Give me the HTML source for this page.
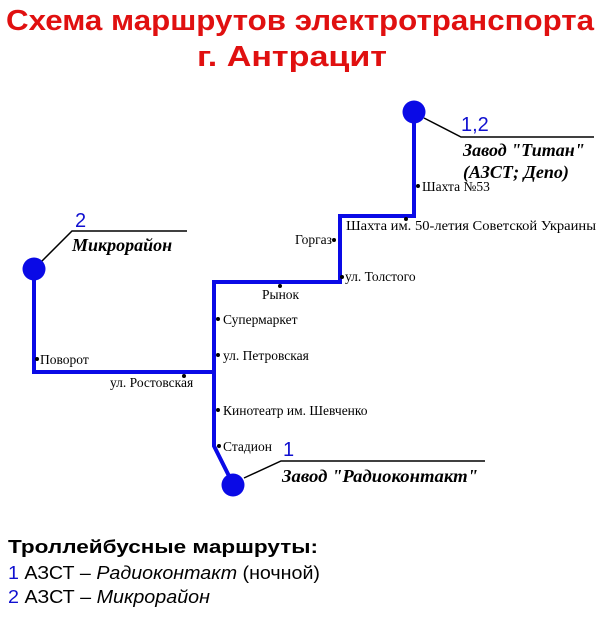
<!DOCTYPE html>
<html><head><meta charset="utf-8"><style>
html,body{margin:0;padding:0;background:#fff;width:600px;height:644px;overflow:hidden}
svg text{font-family:"Liberation Serif","DejaVu Serif",serif}
.s{font-size:13.5px;fill:#000}
.t{font-family:"Liberation Sans",sans-serif !important;font-weight:bold;fill:#e01010}
.n{font-family:"Liberation Sans","DejaVu Sans",sans-serif !important;fill:#1010d0;font-size:20px}
.lbl{font-style:italic;font-weight:bold;font-size:18px;fill:#000}
.lg{font-family:"Liberation Sans","DejaVu Sans",sans-serif !important;font-size:18px;fill:#000}
</style></head><body>
<svg width="600" height="644" xmlns="http://www.w3.org/2000/svg">
<text class="t" x="6" y="30" font-size="29" textLength="588" lengthAdjust="spacingAndGlyphs">Схема маршрутов электротранспорта</text>
<text class="t" x="197" y="66" font-size="29" textLength="190" lengthAdjust="spacingAndGlyphs">г. Антрацит</text>

<g fill="none" stroke="#0a0ae6" stroke-width="4" stroke-linejoin="miter">
<polyline points="414,112 414,216 340,216 340,282 214,282 214,446 233,484"/>
<polyline points="214,372 34,372 34,269"/>
</g>
<g fill="#0a0ae6">
<circle cx="414" cy="112" r="11.5"/>
<circle cx="34" cy="269" r="11.5"/>
<circle cx="233" cy="485" r="11.5"/>
</g>
<g stroke="#000" stroke-width="1.5" fill="none">
<polyline points="424,118 461,137 594,137"/>
<polyline points="42,261 72,231 187,231"/>
<polyline points="244,478 281,461 485,461"/>
</g>
<text class="n" x="461" y="131">1,2</text>
<text class="n" x="75" y="227">2</text>
<text class="n" x="283" y="456">1</text>
<text class="lbl" x="463" y="156">Завод "Титан"</text>
<text class="lbl" x="463" y="178">(АЗСТ; Депо)</text>
<text class="lbl" x="72" y="251">Микрорайон</text>
<text class="lbl" x="282" y="482" textLength="196" lengthAdjust="spacingAndGlyphs">Завод "Радиоконтакт"</text>

<g fill="#000">
<circle cx="418" cy="186" r="2"/><circle cx="406" cy="219" r="2"/><circle cx="334" cy="240" r="2"/>
<circle cx="342" cy="277" r="2"/><circle cx="280" cy="286" r="2"/><circle cx="218" cy="319" r="2"/>
<circle cx="218" cy="355" r="2"/><circle cx="37" cy="359" r="2"/><circle cx="184" cy="376" r="2"/>
<circle cx="218" cy="410" r="2"/><circle cx="219" cy="446" r="2"/>
</g>
<text class="s" x="422" y="191">Шахта №53</text>
<text class="s" x="346" y="230" textLength="250" lengthAdjust="spacingAndGlyphs">Шахта им. 50-летия Советской Украины</text>
<text class="s" x="332" y="244" text-anchor="end">Горгаз</text>
<text class="s" x="345" y="281">ул. Толстого</text>
<text class="s" x="262" y="299">Рынок</text>
<text class="s" x="223" y="324">Супермаркет</text>
<text class="s" x="223" y="360">ул. Петровская</text>
<text class="s" x="40" y="364">Поворот</text>
<text class="s" x="110" y="387">ул. Ростовская</text>
<text class="s" x="223" y="415">Кинотеатр им. Шевченко</text>
<text class="s" x="223" y="451">Стадион</text>

<text class="lg" x="8" y="553" font-weight="bold" font-size="20" textLength="310" lengthAdjust="spacingAndGlyphs">Троллейбусные маршруты:</text>
<text class="lg" x="8" y="579" textLength="312" lengthAdjust="spacingAndGlyphs"><tspan fill="#1010d0">1</tspan> АЗСТ – <tspan font-style="italic">Радиоконтакт</tspan> (ночной)</text>
<text class="lg" x="8" y="603" textLength="202" lengthAdjust="spacingAndGlyphs"><tspan fill="#1010d0">2</tspan> АЗСТ – <tspan font-style="italic">Микрорайон</tspan></text>
</svg>
</body></html>
